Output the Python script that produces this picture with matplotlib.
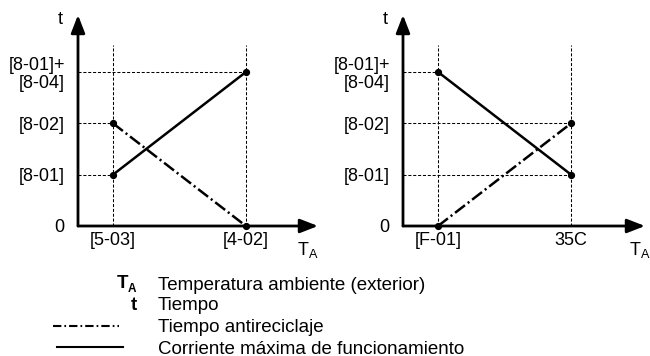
import matplotlib
matplotlib.use("Agg")
import matplotlib.pyplot as plt
from matplotlib.lines import Line2D

plt.rcParams['font.family'] = ['Liberation Sans', 'DejaVu Sans']
plt.rcParams['lines.scale_dashes'] = False

# levels on the t axis
levels = [0, 1, 2, 3]
level_labels = ['0', '[8-01]', '[8-02]', '[8-01]+\n[8-04]']

# left panel
left_x = [1, 4.8]
left_xlabels = ['[5-03]', '[4-02]']
left_solid = [1, 3]
left_dashdot = [2, 0]

# right panel
right_x = [1, 4.8]
right_xlabels = ['[F-01]', '35C']
right_solid = [3, 1]
right_dashdot = [0, 2]

W, H = 650, 356
FS = 13
DASHDOT = (0, (9, 2.5, 1.5, 2.5))
GUIDE = (0, (2.2, 1.3))
fig = plt.figure(figsize=(W / 100, H / 100), dpi=100)


def px_axes(x0, y0, x1, y1):
    # axes placed from pixel corners (x0,y0 = origin, x1,y1 = arrow tips)
    return fig.add_axes([x0 / W, 1 - y0 / H, (x1 - x0) / W, (y0 - y1) / H])


def panel(ax, xs, xlabels, solid, dashdot, xmax, xlab):
    ax.set_xlim(0, xmax)
    ax.set_ylim(0, 4.11)
    for s in ax.spines.values():
        s.set_visible(False)
    ax.set_yticks(levels, level_labels)
    ax.set_xticks(xs, xlabels)
    ax.tick_params(length=0, labelsize=FS)
    ax.tick_params(axis='y', pad=9.5)
    ax.tick_params(axis='x', pad=4)
    for lab in ax.get_yticklabels():
        lab.set_linespacing(1.05)
    # guides
    for x in xs:
        ax.plot([x, x], [0, 3.53], color='black', lw=0.75, ls=GUIDE, clip_on=False)
    for series in (solid, dashdot):
        for x, y in zip(xs, series):
            if y > 0:
                ax.plot([0, x], [y, y], color='black', lw=0.75, ls=GUIDE, clip_on=False)
    ax.plot(xs, solid, color='black', lw=1.8, marker='o', ms=4.2, clip_on=False, zorder=5)
    ax.plot(xs, dashdot, color='black', lw=1.8, ls=DASHDOT, marker='o', ms=4.2,
            clip_on=False, zorder=5)
    # axes with arrows
    arrow = dict(arrowstyle='-|>,head_length=0.9,head_width=0.35', lw=2,
                 color='black', shrinkA=0, shrinkB=0, mutation_scale=12)
    ax.annotate('', xy=(xmax, 0), xytext=(0, 0), arrowprops=arrow, annotation_clip=False)
    ax.annotate('', xy=(0, 4.11), xytext=(0, 0), arrowprops=arrow, annotation_clip=False)
    ax.text(-0.5, 4.03, 't', ha='center', va='center', fontsize=FS)
    ax.text(xlab, -0.47, r'$\mathregular{T_A}$', ha='center', va='center', fontsize=FS)


panel(px_axes(78, 226, 318, 15), left_x, left_xlabels, left_solid, left_dashdot, 6.86, 6.57)
panel(px_axes(403, 226, 645, 15), right_x, right_xlabels, right_solid, right_dashdot,
      6.91, 6.77)

# legend below
LFS = 13.5
rows = [283, 304, 326, 347]
texts = ['Temperatura ambiente (exterior)', 'Tiempo', 'Tiempo antireciclaje',
         'Corriente máxima de funcionamiento']
for y, t in zip(rows, texts):
    fig.text(158 / W, 1 - y / H, t, ha='left', va='center_baseline', fontsize=LFS)
fig.text(122.5 / W, 1 - 282 / H, 'T', ha='center', va='center_baseline', fontsize=LFS,
         fontweight='bold')
fig.text(131.5 / W, 1 - 288 / H, 'A', ha='center', va='center_baseline', fontsize=8.5,
         fontweight='bold')
fig.text(134 / W, 1 - rows[1] / H, 't', ha='center', va='center_baseline', fontsize=LFS,
         fontweight='bold')
fig.add_artist(Line2D([53 / W, 119 / W], [1 - rows[2] / H] * 2, color='black', lw=1.5,
                      ls=(0, (6, 2.2, 1.2, 2.2))))
fig.add_artist(Line2D([57 / W, 123 / W], [1 - rows[3] / H] * 2, color='black', lw=1.5))

fig.savefig('out.png', dpi=100)
